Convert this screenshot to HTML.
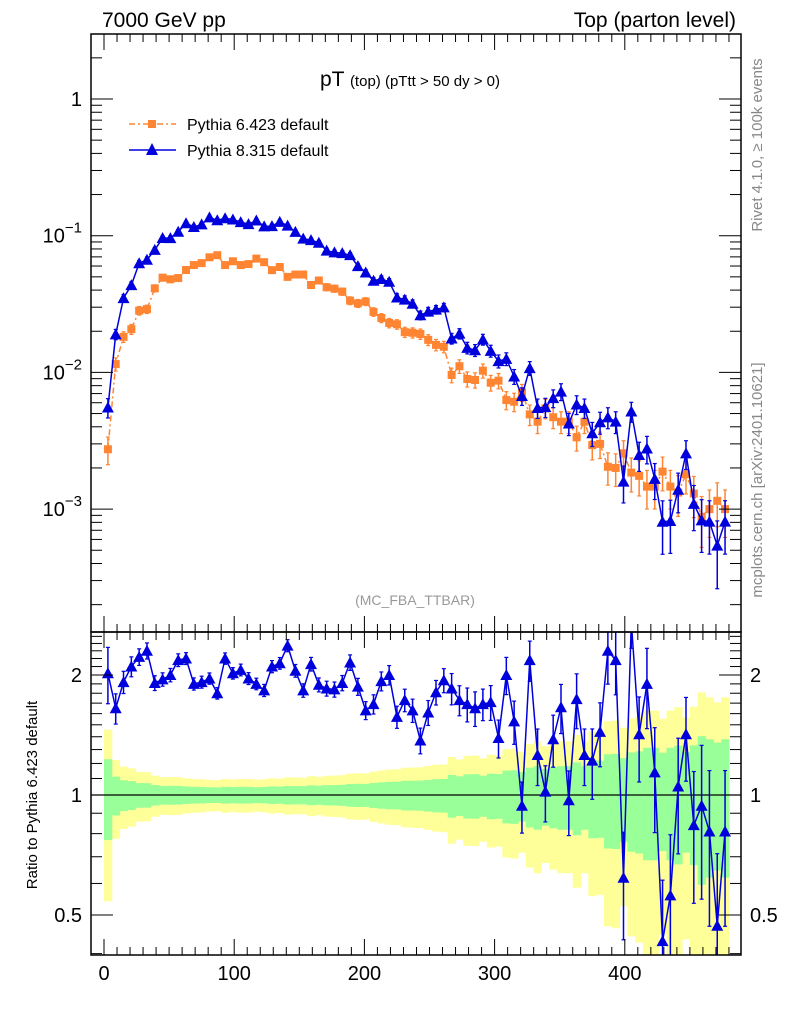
<!DOCTYPE html>
<html><head><meta charset="utf-8"><style>
html,body{margin:0;padding:0;background:#fff;width:786px;height:1024px;overflow:hidden;}
svg{display:block;font-family:"Liberation Sans",Arial,sans-serif;}
</style></head><body>
<svg id="chart" width="786" height="1024" viewBox="0 0 786 1024" xmlns="http://www.w3.org/2000/svg">
<text x="102" y="27" font-size="21">7000 GeV pp</text>
<text x="736" y="27" font-size="21" text-anchor="end">Top (parton level)</text>
<text x="410" y="86" font-size="21" text-anchor="middle">pT <tspan font-size="15">(top)  (pTtt &gt; 50 dy &gt; 0)</tspan></text>
<text x="415" y="605" font-size="14" fill="#999" text-anchor="middle">(MC_FBA_TTBAR)</text>
<text transform="translate(762,145) rotate(-90)" font-size="15" fill="#888" text-anchor="middle">Rivet 4.1.0, ≥ 100k events</text>
<text transform="translate(762,480) rotate(-90)" font-size="15" fill="#888" text-anchor="middle">mcplots.cern.ch [arXiv:2401.10621]</text>
<text transform="translate(37,795) rotate(-90)" font-size="15" text-anchor="middle">Ratio to Pythia 6.423 default</text>
<g>
<g>
<line x1="129" y1="124" x2="176" y2="124" stroke="#ff8533" stroke-width="1.5" stroke-dasharray="6,3,2,3"/>
<rect x="148" y="120" width="8" height="8" fill="#ff8533"/>
<text x="187" y="130" font-size="16">Pythia 6.423 default</text></g>
<g>
<line x1="129" y1="150" x2="176" y2="150" stroke="#0000dd" stroke-width="1.5"/>
<polygon points="152,143 158,155 146,155" fill="#0000dd"/>
<text x="187" y="156" font-size="16">Pythia 8.315 default</text></g>
</g>
<g id="bands"></g><g id="marks"></g><g id="axes"></g>
</svg>
<script>
const binLo = 0, binW = 6;
const pythia6 = [0.00274,0.0115,0.0182,0.0207,0.0283,0.029,0.0412,0.0493,0.048,0.049,0.0561,0.061,0.063,0.0695,0.072,0.061,0.065,0.061,0.062,0.068,0.064,0.056,0.059,0.050,0.052,0.052,0.0436,0.047,0.042,0.041,0.039,0.0335,0.032,0.033,0.0277,0.025,0.023,0.0225,0.0197,0.0195,0.0191,0.0173,0.0159,0.0154,0.00957,0.0111,0.00895,0.0088,0.0103,0.0084,0.0087,0.00628,0.0061,0.00715,0.00493,0.00436,0.00546,0.0047,0.00436,0.00436,0.00335,0.00436,0.00294,0.0030,0.00204,0.0020,0.00256,0.00185,0.00175,0.00146,0.00146,0.00188,0.00146,0.00132,0.0018,0.0013,0.00088,0.0010,0.00115,0.0010];
const ratio8to6 = [2.02,1.65,1.92,2.10,2.22,2.30,1.91,1.95,2.0,2.18,2.2,1.9,1.92,1.96,1.80,2.2,2.02,2.06,1.96,1.9,1.83,2.1,2.14,2.37,2.05,1.83,2.13,1.89,1.85,1.84,1.91,2.15,1.87,1.63,1.69,1.93,2.0,1.57,1.73,1.63,1.37,1.61,1.81,1.94,1.85,1.73,1.69,1.65,1.69,1.71,1.39,2.0,1.53,0.94,2.18,1.26,1.02,1.38,1.66,0.97,1.74,1.26,1.22,1.44,2.3,2.18,0.62,2.8,1.42,1.9,1.14,0.43,0.56,1.05,1.42,0.84,0.94,0.81,0.47,0.81];
const xTicks = [0,100,200,300,400];
const yTicks = [1,0.1,0.01,0.001];
const yTickLabels = ["1","10⁻¹","10⁻²","10⁻³"];
const rTicks = [2,1,0.5];
const rTickLabels = ["2","1","0.5"];
const errK = 0.012;

const NS="http://www.w3.org/2000/svg";
const L=91,R=741,T=34,MB=632,RB=955;
const X=v=>104+v*1.302;
const Y=v=>99-Math.log10(v)*136.7;
const RY=v=>795-Math.log2(v)*120;
function mk(tag,attrs,parent){const e=document.createElementNS(NS,tag);for(const k in attrs)e.setAttribute(k,attrs[k]);parent.appendChild(e);return e;}
const bands=document.getElementById('bands'),marks=document.getElementById('marks'),axes=document.getElementById('axes');
const clipR=mk('clipPath',{id:'cr'},document.getElementById('chart'));mk('rect',{x:L,y:MB,width:R-L,height:RB-MB},clipR);
const clipM=mk('clipPath',{id:'cm'},document.getElementById('chart'));mk('rect',{x:L,y:T,width:R-L,height:MB-T},clipM);
bands.setAttribute('clip-path','url(#cr)');
const n=pythia6.length;
const pythia8=pythia6.map((v,i)=>v*ratio8to6[i]);
const rel=v=>errK/Math.sqrt(v);
const clampY=(y,a,b)=>Math.min(Math.max(y,a),b);
for(let i=0;i<n;i++){
  const e=rel(pythia6[i]),x0=X(binLo+i*binW),x1=X(binLo+(i+1)*binW);
  const top=clampY(RY(1+2*e),MB,RB),bot=clampY(RY(Math.max(1-2*e,0.05)),MB,RB);
  const yb=mk('rect',{x:x0,y:top,width:x1-x0+0.5,height:bot-top,fill:'#ffff99'},bands);
  
  
}
for(let i=0;i<n;i++){
  const e=rel(pythia6[i]),x0=X(binLo+i*binW),x1=X(binLo+(i+1)*binW);
  const top=clampY(RY(1+e),MB,RB),bot=clampY(RY(Math.max(1-e,0.05)),MB,RB);
  const gb=mk('rect',{x:x0,y:top,width:x1-x0+0.5,height:bot-top,fill:'#99ff99'},bands);
  
  
}
mk('line',{x1:L,x2:R,y1:RY(1),y2:RY(1),stroke:'#000','stroke-width':1.2},bands);
function series(vals,yf,color,dash,shape,name,g,errScale,ya,yb){
  const grp=mk('g',{'clip-path':g},marks);
  
  
  const pts=vals.map((v,i)=>[X(binLo+(i+0.5)*binW),clampY(yf(v),ya-10,yb+10)]);
  const pl=mk('polyline',{points:pts.map(p=>p.join(',')).join(' '),fill:'none',stroke:color,'stroke-width':1.5},grp);
  if(dash)pl.setAttribute('stroke-dasharray',dash);
  vals.forEach((v,i)=>{
    const e=errScale[i],[x,y]=pts[i];
    const hi=clampY(yf(v*(1+e)),ya,yb),lo=clampY(yf(Math.max(v*(1-e),v*0.02)),ya,yb);
    mk('line',{x1:x,x2:x,y1:hi,y2:lo,stroke:color,'stroke-width':1.5},grp);
    if(hi>ya)mk('line',{x1:x-2,x2:x+2,y1:hi,y2:hi,stroke:color,'stroke-width':1.2},grp);
    if(lo<yb)mk('line',{x1:x-2,x2:x+2,y1:lo,y2:lo,stroke:color,'stroke-width':1.2},grp);
    let m;
    if(shape==='sq')m=mk('rect',{x:x-4,y:y-4,width:8,height:8,fill:color},grp);
    else m=mk('polygon',{points:`${x},${y-6} ${x+6},${y+5} ${x-6},${y+5}`,fill:color},grp);
    
    
  });
}
series(pythia6,Y,'#ff8533','6,3,2,3','sq','pythia6-series','url(#cm)',pythia6.map(v=>rel(v)),T,MB);
series(pythia8,Y,'#0000dd',null,'tri','pythia8-series','url(#cm)',pythia8.map(v=>rel(v)),T,MB);
series(ratio8to6,RY,'#0000dd',null,'tri','ratio-pythia8-series','url(#cr)',pythia8.map(v=>rel(v)),MB,RB);
[[T,MB],[MB,RB]].forEach(([a,b])=>mk('rect',{x:L,y:a,width:R-L,height:b-a,fill:'none',stroke:'#000','stroke-width':1.5},axes));
for(let v=-10;v<=490;v+=10){
  const x=X(v);if(x<L||x>R)continue;const maj=v%100===0;const len=maj?16:8;
  [[T,1],[MB,-1],[MB,1],[RB,-1]].forEach(([y,d])=>mk('line',{x1:x,x2:x,y1:y,y2:y+d*len,stroke:'#000','stroke-width':1},axes));
}
xTicks.forEach(v=>{const t=mk('text',{x:X(v),y:980,'font-size':20,'text-anchor':'middle'},axes);t.textContent=v;

});
for(let d=-4;d<=0;d++)for(let k=1;k<=9;k++){
  const v=k*Math.pow(10,d),y=Y(v);if(y<T||y>MB)continue;const len=k===1?22:11;
  mk('line',{x1:L,x2:L+len,y1:y,y2:y,stroke:'#000'},axes);mk('line',{x1:R,x2:R-len,y1:y,y2:y,stroke:'#000'},axes);
}
yTicks.forEach((v,i)=>{const t=mk('text',{x:82,y:Y(v)+7,'font-size':20,'text-anchor':'end'},axes);
const s=yTickLabels[i];if(s.length>1){t.textContent='10';const sp=mk('tspan',{dy:-10,'font-size':15},t);sp.textContent=s.slice(2).replace('⁻','−').replace('¹','1').replace('²','2').replace('³','3');}else t.textContent=s;

});
for(let k=4;k<=25;k++){const v=k/10,y=RY(v);if(y<MB||y>RB)continue;const maj=(v===0.5||v===1||v===2);const len=maj?22:11;
mk('line',{x1:L,x2:L+len,y1:y,y2:y,stroke:'#000'},axes);mk('line',{x1:R,x2:R-len,y1:y,y2:y,stroke:'#000'},axes);}
rTicks.forEach((v,i)=>{
const a=mk('text',{x:82,y:RY(v)+7,'font-size':20,'text-anchor':'end'},axes);a.textContent=rTickLabels[i];


const b=mk('text',{x:750,y:RY(v)+7,'font-size':20},axes);b.textContent=rTickLabels[i];

});
</script>
</body></html>
